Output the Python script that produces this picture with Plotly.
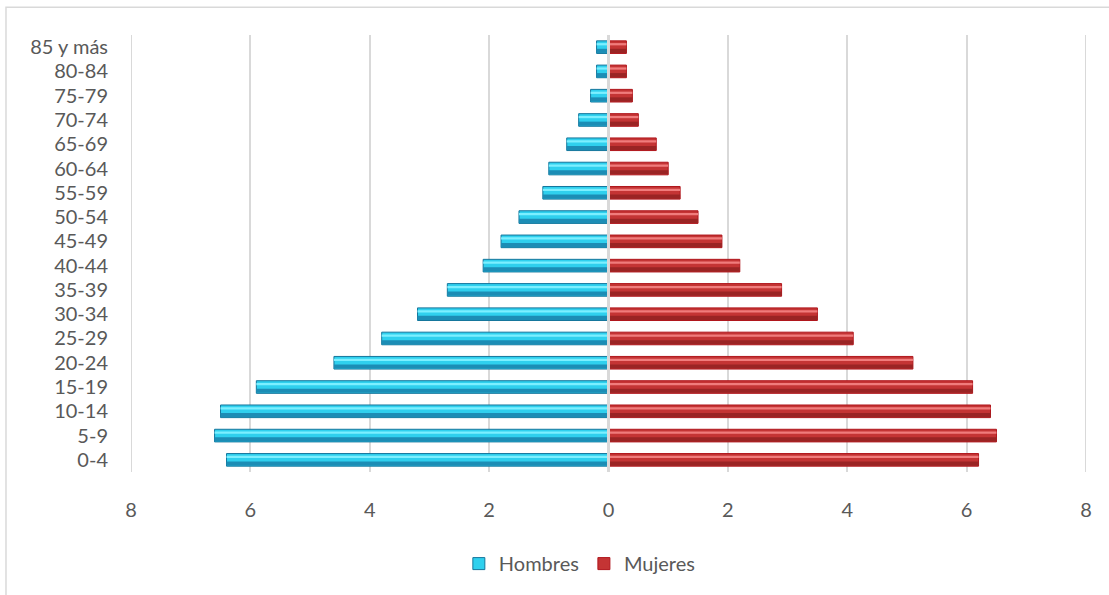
import plotly.graph_objects as go

# Age groups, youngest first (drawn bottom to top)
age_groups = ["0-4", "5-9", "10-14", "15-19", "20-24", "25-29", "30-34", "35-39",
              "40-44", "45-49", "50-54", "55-59", "60-64", "65-69", "70-74",
              "75-79", "80-84", "85 y más"]

# Share of population (%) by sex
hombres = [6.4, 6.6, 6.5, 5.9, 4.6, 3.8, 3.2, 2.7, 2.1, 1.8, 1.5, 1.1, 1.0, 0.7,
           0.5, 0.3, 0.2, 0.2]
mujeres = [6.2, 6.5, 6.4, 6.1, 5.1, 4.1, 3.5, 2.9, 2.2, 1.9, 1.5, 1.2, 1.0, 0.8,
           0.5, 0.4, 0.3, 0.3]

tick_vals = [-8, -6, -4, -2, 0, 2, 4, 6, 8]
tick_text = ["8", "6", "4", "2", "0", "2", "4", "6", "8"]

hombres_neg = [-v for v in hombres]

BAR_W = 0.52
FONT = "Lato, 'Open Sans', sans-serif"

fig = go.Figure()


def bevel_bar(values, name, main, edge, dark, light):
    # main body with legend entry
    fig.add_trace(go.Bar(
        y=age_groups, x=values, orientation="h", name=name,
        width=BAR_W, offset=-BAR_W / 2,
        marker=dict(color=main, line=dict(color=edge, width=1)),
        hoverinfo="x+y+name",
    ))
    # darker lower band
    fig.add_trace(go.Bar(
        y=age_groups, x=values, orientation="h", showlegend=False,
        width=BAR_W * 0.33, offset=-BAR_W / 2 + 0.02,
        marker=dict(color=dark, line=dict(width=0)), hoverinfo="skip",
    ))
    # light highlight stripe near the top
    fig.add_trace(go.Bar(
        y=age_groups, x=values, orientation="h", showlegend=False,
        width=BAR_W * 0.18, offset=BAR_W / 2 - BAR_W * 0.36,
        marker=dict(color=light, line=dict(width=0)), hoverinfo="skip",
    ))


bevel_bar(hombres_neg, "Hombres", "#2FD0EE", "#15769C", "#1C8DB5", "#7CEFFF")
bevel_bar(mujeres, "Mujeres", "#C43434", "#B0161C", "#9A2424", "#F07C7C")

fig.update_layout(
    width=1109, height=595,
    margin=dict(l=131, r=23, t=35, b=120),
    paper_bgcolor="white", plot_bgcolor="white",
    barmode="overlay",
    font=dict(family=FONT, size=20, color="#595959"),
    showlegend=True,
    legend=dict(orientation="h", x=0.47, xanchor="center", y=-0.165,
                yanchor="top", font=dict(size=20, color="#595959"),
                itemwidth=30, traceorder="normal"),
    xaxis=dict(range=[-8, 8], tickvals=tick_vals, ticktext=tick_text,
               showgrid=True, gridcolor="#D9D9D9", gridwidth=2,
               zeroline=False, showline=False, ticks="",
               ticklabelstandoff=24, fixedrange=True),
    yaxis=dict(categoryorder="array", categoryarray=age_groups,
               showgrid=False, showline=False, ticks="",
               ticklabelstandoff=22, fixedrange=True),
    shapes=[
        # outer gridlines at the range ends
        dict(type="line", xref="x", yref="paper", x0=-8, x1=-8, y0=0, y1=1,
             line=dict(color="#D9D9D9", width=2), layer="below"),
        dict(type="line", xref="x", yref="paper", x0=8, x1=8, y0=0, y1=1,
             line=dict(color="#D9D9D9", width=2), layer="below"),
        # centre divider drawn over the bars
        dict(type="line", xref="x", yref="paper", x0=0, x1=0, y0=0, y1=1,
             line=dict(color="#D9D9D9", width=3), layer="above"),
        # chart frame
        dict(type="rect", xref="paper", yref="paper",
             x0=-0.1309, x1=1.03, y0=-0.29, y1=1.0636,
             line=dict(color="#D9D9D9", width=1.5), layer="below"),
    ],
)

fig.write_html("out.html")
